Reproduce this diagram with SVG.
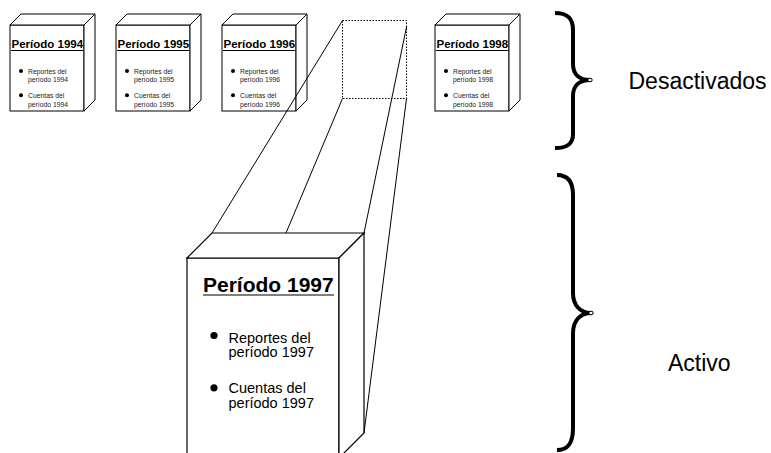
<svg xmlns="http://www.w3.org/2000/svg" width="771" height="453" viewBox="0 0 771 453">
<style>
.edge{fill:#fff;stroke:#000;stroke-width:1;stroke-linejoin:miter}
.bigedge{fill:#fff;stroke:#000;stroke-width:1.2}
.conn{fill:none;stroke:#000;stroke-width:1}
.dotted{fill:none;stroke:#000;stroke-width:1;stroke-dasharray:1.5 1.5}
.brace{fill:none;stroke:#000;stroke-width:4;stroke-linecap:butt;stroke-linejoin:round}
.st{font-family:"Liberation Sans",Arial,sans-serif;font-weight:bold;font-size:11.5px;fill:#000}
.sb{font-family:"Liberation Sans",Arial,sans-serif;font-size:6.8px;fill:#222}
.bt{font-family:"Liberation Sans",Arial,sans-serif;font-weight:bold;font-size:21px;fill:#000}
.bb{font-family:"Liberation Sans",Arial,sans-serif;font-size:14.5px;fill:#000}
.lbl{font-family:"Liberation Sans",Arial,sans-serif;font-size:23px;fill:#000}
.ul{stroke:#000;stroke-width:1}
</style>
<defs>
<g id="smallShape">
<rect class="edge" x="0" y="0" width="74" height="86"/>
<path class="edge" d="M0,0 L11,-11 L85,-11 L74,0 Z"/>
<path class="edge" d="M74,0 L85,-11 L85,75 L74,86 Z"/>
<line class="ul" x1="1" y1="25.5" x2="73" y2="25.5"/>
<circle cx="11" cy="46" r="2" fill="#000"/>
<circle cx="11" cy="70.3" r="2" fill="#000"/>
</g>
</defs>

<g id="box-1994" transform="translate(10,25)">
<use href="#smallShape"/>
<text class="st" x="1.5" y="23">Período 1994</text>
<text class="sb" x="18" y="48.5">Reportes del</text>
<text class="sb" x="18" y="57.3">período 1994</text>
<text class="sb" x="18" y="72.5">Cuentas del</text>
<text class="sb" x="18" y="81.5">período 1994</text>
</g>

<g id="box-1995" transform="translate(116,25)">
<use href="#smallShape"/>
<text class="st" x="1.5" y="23">Período 1995</text>
<text class="sb" x="18" y="48.5">Reportes del</text>
<text class="sb" x="18" y="57.3">período 1995</text>
<text class="sb" x="18" y="72.5">Cuentas del</text>
<text class="sb" x="18" y="81.5">período 1995</text>
</g>

<g id="box-1996" transform="translate(222,25)">
<use href="#smallShape"/>
<text class="st" x="1.5" y="23">Período 1996</text>
<text class="sb" x="18" y="48.5">Reportes del</text>
<text class="sb" x="18" y="57.3">período 1996</text>
<text class="sb" x="18" y="72.5">Cuentas del</text>
<text class="sb" x="18" y="81.5">período 1996</text>
</g>

<g id="box-1998" transform="translate(435,25)">
<use href="#smallShape"/>
<text class="st" x="1.5" y="23">Período 1998</text>
<text class="sb" x="18" y="48.5">Reportes del</text>
<text class="sb" x="18" y="57.3">período 1998</text>
<text class="sb" x="18" y="72.5">Cuentas del</text>
<text class="sb" x="18" y="81.5">período 1998</text>
</g>

<g id="box-1997" transform="translate(187,258)">
<rect class="bigedge" x="0" y="0" width="152" height="210"/>
<path class="bigedge" d="M0,0 L25,-25 L177,-25 L152,0 Z"/>
<path class="bigedge" d="M152,0 L177,-25 L177,175 L152,200 Z"/>
<text class="bt" x="16" y="34">Período 1997</text>
<line class="ul" x1="16" y1="37" x2="147" y2="37" stroke-width="1.3"/>
<circle cx="27" cy="77.5" r="3.6" fill="#000"/>
<circle cx="27" cy="129.8" r="3.6" fill="#000"/>
<text class="bb" x="41.5" y="84.7">Reportes del</text>
<text class="bb" x="41.5" y="99.3">período 1997</text>
<text class="bb" x="41.5" y="134.7">Cuentas del</text>
<text class="bb" x="41.5" y="150">período 1997</text>
</g>

<g id="connectors">
<rect class="dotted" x="342.5" y="20.5" width="64" height="78"/>
<line class="conn" x1="342.5" y1="20.5" x2="212" y2="233"/>
<line class="conn" x1="342.5" y1="98.5" x2="286" y2="233"/>
<line class="conn" x1="406.5" y1="27" x2="364" y2="233"/>
<line class="conn" x1="406.5" y1="98.5" x2="364" y2="433"/>
</g>

<g id="brace-desactivados">
<path class="brace" d="M555,13 C567,13 573,18 573,30 L573,64 C573,74 579,80 590,80 C579,80 573,86 573,96 L573,134 C573,144 567,148 555,148"/>
<ellipse cx="590" cy="80" rx="2.2" ry="1.8" fill="#fff" stroke="#000" stroke-width="1"/>
<text class="lbl" x="628.5" y="89">Desactivados</text>
</g>

<g id="brace-activo">
<path class="brace" d="M557,175 C568,175 573,182 573,195 L573,293 C573,305 580,313 591,313 C580,313 573,321 573,333 L573,428 C573,443 568,450 557,450"/>
<ellipse cx="591" cy="313" rx="2.2" ry="1.8" fill="#fff" stroke="#000" stroke-width="1"/>
<text class="lbl" x="668" y="371">Activo</text>
</g>
</svg>
